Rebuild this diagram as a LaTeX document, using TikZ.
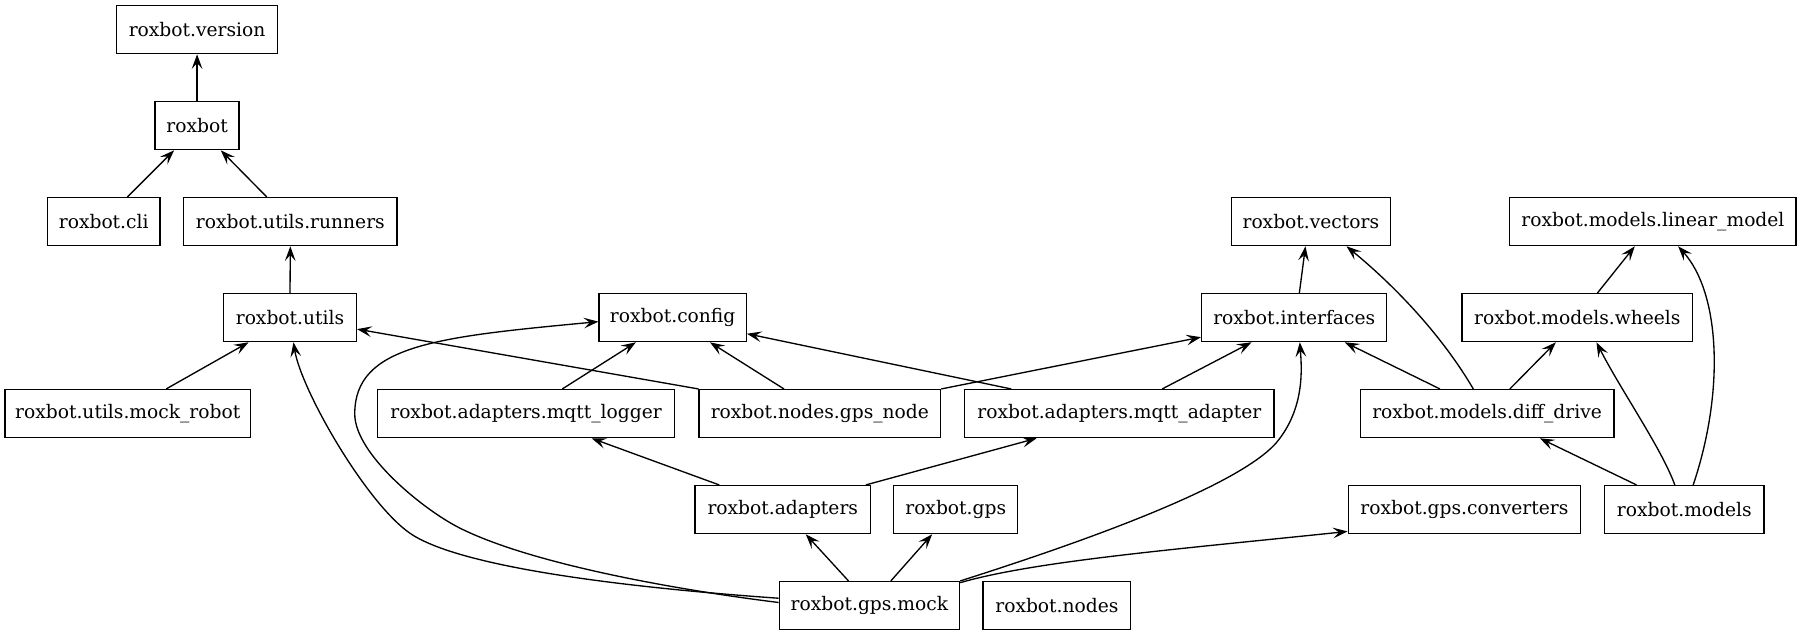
\documentclass[tikz,border=0pt]{standalone}
\usepackage{fontspec}
\setmainfont{DejaVu Serif}
\usetikzlibrary{arrows.meta,calc}
\begin{document}
\begin{tikzpicture}[x=0.8625pt,y=-0.8625pt,
  mod/.style={draw,line width=1pt,rectangle,minimum height=36pt,inner xsep=4pt,inner ysep=0pt,font=\fontsize{14}{16}\selectfont},
  e/.style={line width=1pt,-{Stealth[length=11pt,width=8pt,inset=4.5pt]}}]
\fill[white] (0,0) rectangle (1568,552.2);
\useasboundingbox (0,0) rectangle (1568,552.2);
% nodes
\node[mod,minimum width=120.6pt] (ver) at (171.4,25.8) {roxbot.version};
\node[mod,minimum width=63.1pt] (rox) at (171.4,109.28) {roxbot};
\node[mod,minimum width=84.4pt] (cli) at (90.2,192.75) {roxbot.cli};
\node[mod,minimum width=160.2pt] (run) at (252.5,192.75) {roxbot.utils.runners};
\node[mod,minimum width=99.6pt] (uti) at (252.2,276.23) {roxbot.utils};
\node[mod,minimum width=184.1pt] (mrob) at (111.1,359.71) {roxbot.utils.mock\_robot};
\node[mod,minimum width=110.4pt] (cfg) at (585,276.23) {roxbot.config};
\node[mod,minimum width=222.5pt] (mlog) at (457.5,359.71) {roxbot.adapters.mqtt\_logger};
\node[mod,minimum width=181.1pt] (gnode) at (713,359.71) {roxbot.nodes.gps\_node};
\node[mod,minimum width=232pt] (madp) at (973.5,359.71) {roxbot.adapters.mqtt\_adapter};
\node[mod,minimum width=119pt] (vec) at (1140,192.75) {roxbot.vectors};
\node[mod,minimum width=138.9pt] (intf) at (1125.5,276.23) {roxbot.interfaces};
\node[mod,minimum width=214.8pt] (lin) at (1437.5,192.75) {roxbot.models.linear\_model};
\node[mod,minimum width=172.9pt] (whl) at (1371.75,276.23) {roxbot.models.wheels};
\node[mod,minimum width=190.2pt] (diff) at (1293.25,359.71) {roxbot.models.diff\_drive};
\node[mod,minimum width=131.5pt] (adp) at (680.75,443.19) {roxbot.adapters};
\node[mod,minimum width=92.9pt] (gps) at (831.15,443.19) {roxbot.gps};
\node[mod,minimum width=174.2pt] (conv) at (1273.5,443.19) {roxbot.gps.converters};
\node[mod,minimum width=119.4pt] (mdl) at (1464.8,443.19) {roxbot.models};
\node[mod,minimum width=135.2pt] (gmock) at (756.1,526.67) {roxbot.gps.mock};
\node[mod,minimum width=110.7pt] (nodes) at (919.15,526.67) {roxbot.nodes};
% edges
\draw[e] (rox) -- (ver);
\draw[e] ($(cli.north)+(20.6,0)$) -- ($(rox.south)+(-20,0)$);
\draw[e] ($(run.north)+(-20.5,0)$) -- ($(rox.south)+(20.6,0)$);
\draw[e] (uti.north) -- (run.south);
\draw[e] ($(mrob.north)+(33.4,0)$) -- ($(uti.south)+(-36,0)$);
\draw[e] (gnode.north west) -- ($(uti.east)+(0,10)$);
\draw[e] ($(mlog.north)+(31.5,0)$) -- ($(cfg.south)+(-32,0)$);
\draw[e] ($(gnode.north)+(-31.2,0)$) -- ($(cfg.south)+(32.4,0)$);
\draw[e] ($(madp.north)+(-94.1,0)$) -- ($(cfg.east)+(0,14)$);
\draw[e] (gnode.north east) -- ($(intf.west)+(0,17)$);
\draw[e] ($(madp.north)+(37.2,0)$) -- ($(intf.south)+(-37.1,0)$);
\draw[e] ($(intf.north)+(4.5,0)$) -- ($(vec.south)+(-4.7,0)$);
\draw[e] ($(diff.north)+(-12,0)$) .. controls (1256,295) and (1217,252) .. ($(vec.south)+(31,0)$);
\draw[e] ($(diff.north)+(-41,0)$) -- ($(intf.south)+(44,0)$);
\draw[e] ($(diff.north)+(19.8,0)$) -- ($(whl.south)+(-18.7,0)$);
\draw[e] ($(whl.north)+(17.5,0)$) -- ($(lin.south)+(-15.8,0)$);
\draw[e] ($(mdl.north)+(-8.3,0)$) .. controls (1445,390) and (1410,340) .. ($(whl.south)+(16.6,0)$);
\draw[e] ($(mdl.north)+(7.7,0)$) .. controls (1500,340) and (1496,255) .. ($(lin.south)+(21.9,0)$);
\draw[e] ($(mdl.north)+(-41.6,0)$) -- ($(diff.south)+(45.9,0)$);
\draw[e] ($(adp.north)+(-55.25,0)$) -- ($(mlog.south)+(57,0)$);
\draw[e] ($(adp.north)+(72.2,0)$) -- ($(madp.south)+(-72,0)$);
\draw[e] ($(gmock.north)+(-18.2,0)$) -- ($(adp.south)+(20,0)$);
\draw[e] ($(gmock.north)+(18.6,0)$) -- ($(gps.south)+(-20.5,0)$);
\draw[e] (gmock.north east) .. controls (930,475) and (1075,425) .. (1110,385) .. controls (1135,355) and (1132,320) .. ($(intf.south)+(4.9,0)$);
\draw[e] ($(gmock.north east)+(0,1.5)$) .. controls (900,488) and (1020,478) .. ($(conv.west)+(0,19)$);
\draw[e] ($(gmock.west)+(0,-6.4)$) .. controls (560,512) and (409.7,495.8) .. (360,466) .. controls (321.4,442.9) and (262,340) .. ($(uti.south)+(3,0)$);
\draw[e] ($(gmock.west)+(0,-2.7)$) .. controls (588.6,513) and (462.6,490.6) .. (400,459.3) .. controls (368.7,443.7) and (308.5,395) .. (308.5,360) .. controls (308.5,300) and (380,293) .. ($(cfg.west)+(0,3.5)$);
\end{tikzpicture}
\end{document}
